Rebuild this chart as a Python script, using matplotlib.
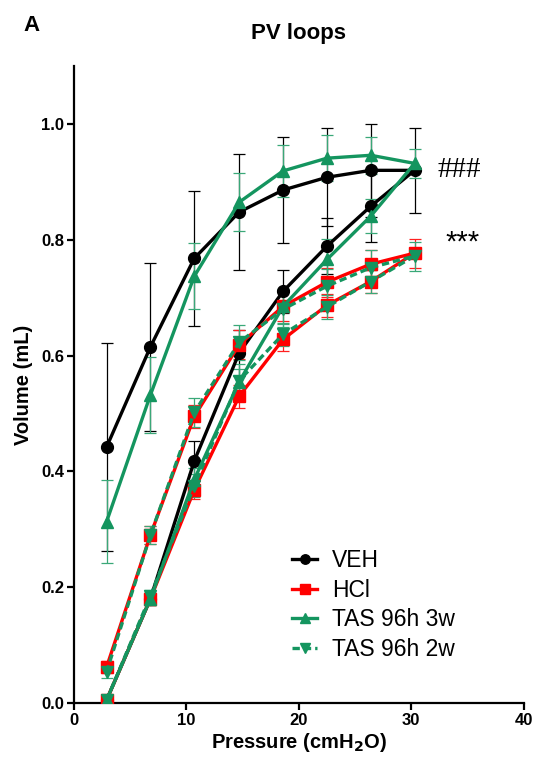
import numpy as np
import matplotlib
matplotlib.use("Agg")
import matplotlib.pyplot as plt

plt.rcParams['font.family'] = ['Liberation Sans', 'DejaVu Sans']

# pressure steps (cmH2O); inflation goes up, deflation comes back down
pressure = [2.9, 6.8, 10.7, 14.7, 18.6, 22.5, 26.4, 30.3]

# volumes (mL): inflation at every pressure, deflation at pressure[:-1]
veh_in = [0.005, 0.18, 0.418, 0.605, 0.711, 0.789, 0.858, 0.92]
veh_in_err = [0.005, 0.01, 0.035, 0.04, 0.037, 0.048, 0.062, 0.073]
veh_out = [0.442, 0.615, 0.768, 0.848, 0.886, 0.908, 0.92]
veh_out_err = [0.18, 0.145, 0.116, 0.1, 0.092, 0.085, 0.08]

hcl_in = [0.005, 0.18, 0.368, 0.53, 0.628, 0.687, 0.728, 0.777]
hcl_in_err = [0.005, 0.01, 0.015, 0.02, 0.02, 0.02, 0.02, 0.025]
hcl_out = [0.062, 0.29, 0.495, 0.619, 0.685, 0.727, 0.758]
hcl_out_err = [0.01, 0.015, 0.02, 0.025, 0.025, 0.025, 0.025]

tas3_in = [0.005, 0.18, 0.386, 0.555, 0.685, 0.766, 0.841, 0.932]
tas3_in_err = [0.005, 0.01, 0.02, 0.03, 0.03, 0.035, 0.03, 0.025]
tas3_out = [0.313, 0.532, 0.737, 0.865, 0.919, 0.941, 0.946]
tas3_out_err = [0.072, 0.065, 0.057, 0.05, 0.045, 0.04, 0.032]

tas2_in = [0.005, 0.185, 0.375, 0.557, 0.637, 0.684, 0.728, 0.772]
tas2_in_err = [0.005, 0.01, 0.02, 0.02, 0.02, 0.02, 0.02, 0.025]
tas2_out = [0.054, 0.29, 0.502, 0.623, 0.68, 0.72, 0.752]
tas2_out_err = [0.01, 0.015, 0.025, 0.03, 0.03, 0.03, 0.03]

labels = ['VEH', 'HCl', 'TAS 96h 3w', 'TAS 96h 2w']

GREEN = '#14955F'


def loop(vin, vout):
    # inflation limb then deflation limb back to the lowest pressure
    x = list(pressure) + list(pressure[:-1])[::-1]
    y = list(vin) + list(vout)[::-1]
    return x, y


fig = plt.figure(figsize=(5.36, 7.6), dpi=100)
ax = fig.add_axes([0.138, 0.075, 0.839, 0.838])

series = [
    (veh_in, veh_in_err, veh_out, veh_out_err, 'black', 'o', '-', 'black'),
    (hcl_in, hcl_in_err, hcl_out, hcl_out_err, '#FF0000', 's', '-', '#FF2020'),
    (tas3_in, tas3_in_err, tas3_out, tas3_out_err, GREEN, '^', '-', '#3AA878'),
    (tas2_in, tas2_in_err, tas2_out, tas2_out_err, GREEN, 'v', (0, (2.2, 1.2)), '#3AA878'),
]

handles = []
for (vin, ein, vout, eout, col, mk, ls, ecol), lab in zip(series, labels):
    x, y = loop(vin, vout)
    _, e = loop(ein, eout)
    ax.errorbar(x, y, yerr=e, fmt='none', ecolor=ecol, elinewidth=0.9,
                capsize=4.5, capthick=0.9, zorder=2)
    h, = ax.plot(x, y, color=col, marker=mk, markersize=8.5, linewidth=2.4,
                 linestyle=ls, zorder=3, label=lab)
    handles.append(h)

ax.set_xlim(0, 40)
ax.set_ylim(0, 1.1)
ax.set_xticks([0, 10, 20, 30, 40])
ax.set_yticks([0.0, 0.2, 0.4, 0.6, 0.8, 1.0])
ax.set_yticklabels(['0.0', '0.2', '0.4', '0.6', '0.8', '1.0'])
for s in ['top', 'right']:
    ax.spines[s].set_visible(False)
for s in ['left', 'bottom']:
    ax.spines[s].set_linewidth(1.6)
ax.tick_params(direction='out', length=5, width=1.6, labelsize=12, pad=2)
for t in ax.get_xticklabels() + ax.get_yticklabels():
    t.set_fontweight('bold')

ax.set_xlabel('Pressure (cmH$_\\mathbf{2}$O)', fontsize=14.5, fontweight='bold', labelpad=2)
ax.set_ylabel('Volume (mL)', fontsize=14.5, fontweight='bold', labelpad=6)

fig.text(0.556, 0.956, 'PV loops', fontsize=16, fontweight='bold', ha='center', va='center')
fig.text(0.059, 0.966, 'A', fontsize=16, fontweight='bold', ha='center', va='center')

ax.text(34.3, 0.92, '###', fontsize=21, family='Liberation Serif', ha='center', va='center')
ax.text(34.6, 0.795, '***', fontsize=21, ha='center', va='center')

ax.legend(handles=handles, loc='upper left', bbox_to_anchor=(0.545, 0.278),
          bbox_transform=fig.transFigure, frameon=False, fontsize=16.5,
          handlelength=1.1, handletextpad=0.65, labelspacing=0.3,
          borderpad=0, borderaxespad=0, markerscale=0.8)

fig.savefig('out.png', dpi=100)
